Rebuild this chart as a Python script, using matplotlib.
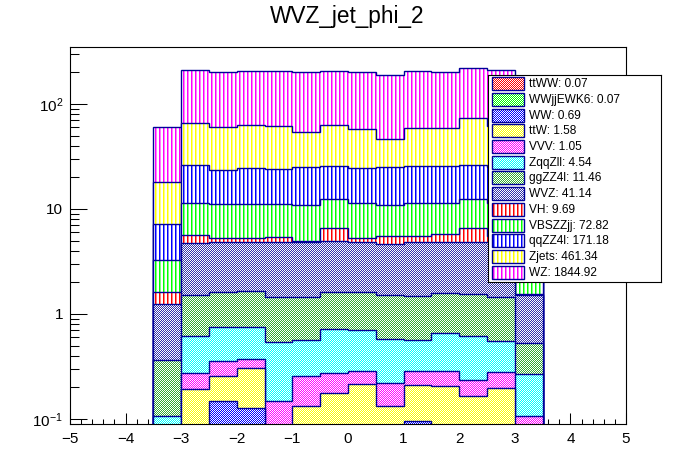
import numpy as np
import matplotlib
matplotlib.use("Agg")
import matplotlib.pyplot as plt
from matplotlib.patches import Rectangle
from matplotlib.colors import to_rgb
from matplotlib.ticker import LogLocator, NullFormatter, MultipleLocator

plt.rcParams["font.family"] = ["Liberation Sans", "DejaVu Sans"]
plt.rcParams["mathtext.fontset"] = "custom"
plt.rcParams["mathtext.rm"] = "Liberation Sans"

TITLE = "WVZ_jet_phi_2"

# 14 bins of width 0.5 between -3.5 and 3.5
BIN_EDGES = [-3.5, -3.0, -2.5, -2.0, -1.5, -1.0, -0.5, 0.0,
             0.5, 1.0, 1.5, 2.0, 2.5, 3.0, 3.5]

# stack order, bottom -> top (also legend order, top -> bottom)
PROCESSES = ["ttWW", "WWjjEWK6", "WW", "ttW", "VVV", "ZqqZll", "ggZZ4l",
             "WVZ", "VH", "VBSZZjj", "qqZZ4l", "Zjets", "WZ"]
TOTALS = [0.07, 0.07, 0.69, 1.58, 1.05, 4.54, 11.46,
          41.14, 9.69, 72.82, 171.18, 461.34, 1844.92]

# per-bin contents
TTWW = [0.002, 0.005, 0.005, 0.005, 0.005, 0.005, 0.005,
        0.005, 0.005, 0.005, 0.005, 0.005, 0.005, 0.002]
WWJJ = [0.003, 0.005, 0.005, 0.005, 0.005, 0.005, 0.005,
        0.005, 0.005, 0.005, 0.005, 0.005, 0.005, 0.003]
WW = [0.01, 0.04, 0.138, 0.117, 0.02, 0.03, 0.03,
      0.03, 0.03, 0.086, 0.03, 0.03, 0.03, 0.01]
TTW = [0.03, 0.144, 0.11, 0.179, 0.03, 0.094, 0.137,
       0.174, 0.094, 0.115, 0.165, 0.127, 0.156, 0.03]
VVV = [0.03, 0.082, 0.099, 0.067, 0.088, 0.124, 0.098,
       0.072, 0.086, 0.075, 0.081, 0.07, 0.082, 0.062]
ZQQZLL = [0.032, 0.344, 0.395, 0.379, 0.397, 0.311, 0.445,
          0.422, 0.358, 0.283, 0.373, 0.384, 0.275, 0.163]
GGZZ = [0.258, 0.90, 0.878, 0.908, 0.905, 0.881, 0.91,
        0.902, 0.942, 0.921, 0.921, 0.919, 0.897, 0.26]
WVZ = [0.885, 3.26, 3.18, 3.15, 3.43, 3.36, 3.28,
       3.2, 3.15, 3.32, 3.3, 3.34, 3.35, 1.0]
VH = [0.37, 0.87, 0.49, 0.49, 0.57, 0.18, 1.68,
      0.49, 0.9, 0.76, 0.85, 1.71, 0.7, 0.02]
VBS = [1.65, 5.75, 5.8, 5.8, 5.65, 5.81, 5.91,
       6.1, 5.33, 5.83, 5.67, 5.91, 6.0, 1.75]
QQZZ = [3.97, 14.8, 12.6, 13.5, 12.9, 14.3, 13.2,
        13.2, 14.2, 14.5, 14.5, 13.7, 13.5, 3.9]
ZJETS = [10.86, 39.7, 36.7, 38.4, 37.7, 29.4, 37.3,
         33.2, 21.3, 33.2, 33.2, 46.7, 37.0, 10.8]
WZ = [42.3, 145.0, 141.6, 143.0, 144.0, 147.5, 143.0,
      144.0, 142.6, 146.9, 142.9, 147.0, 147.0, 42.0]

CONTENTS = [TTWW, WWJJ, WW, TTW, VVV, ZQQZLL, GGZZ,
            WVZ, VH, VBS, QQZZ, ZJETS, WZ]

# ROOT-like fill styles: (colour, pattern)
STYLE = {
    "ttWW": ("#ff0000", "check"),
    "WWjjEWK6": ("#00ff00", "check"),
    "WW": ("#0000ff", "check"),
    "ttW": ("#ffff00", "check"),
    "VVV": ("#ff00ff", "check"),
    "ZqqZll": ("#00ffff", "check"),
    "ggZZ4l": ("#33aa33", "check"),
    "WVZ": ("#3333aa", "check"),
    "VH": ("#ff0000", "vert"),
    "VBSZZjj": ("#00ff00", "vert"),
    "qqZZ4l": ("#0000ff", "vert"),
    "Zjets": ("#ffff00", "vert"),
    "WZ": ("#ff00ff", "vert"),
}
LINE = "#000099"

W, H = 696, 472
# plot frame in pixels (left, top, right, bottom)
FX0, FY0, FX1, FY1 = 70, 47, 626, 424
# legend box in pixels
LX0, LY0, LX1, LY1 = 488, 75, 661, 282


def texture(name, h, w):
    """Pixel pattern like ROOT fill styles: checker or vertical lines."""
    col, kind = STYLE[name]
    c = np.array(to_rgb(col))
    yy, xx = np.mgrid[0:h, 0:w]
    img = np.ones((h, w, 3))
    if kind == "vert":
        img[(xx % 4) == 1] = c
        img[(xx % 4) == 2] = 0.5 * c + 0.5
    else:
        img[((xx + yy) % 2) == 0] = c
    return img


def patterned(ax, name, clip, z):
    """Full-axes pixel texture clipped to a patch (1:1 pixel mapping)."""
    bb = ax.get_position()
    pw, ph = int(round(bb.width * W)), int(round(bb.height * H))
    im = ax.imshow(texture(name, ph, pw), extent=(0, 1, 0, 1),
                   transform=ax.transAxes, interpolation="nearest",
                   aspect="auto", zorder=z)
    im.set_clip_path(clip)


def main():
    fig = plt.figure(figsize=(W / 100, H / 100), dpi=100)
    ax = fig.add_axes([FX0 / W, 1 - FY1 / H, (FX1 - FX0) / W, (FY1 - FY0) / H])
    ax.set_yscale("log")

    edges = np.array(BIN_EDGES)
    cum = np.cumsum(np.array(CONTENTS), axis=0)

    # ROOT THStack: draw cumulative histos from the top one down
    z = 1.0
    for k in range(len(PROCESSES) - 1, -1, -1):
        name = PROCESSES[k]
        shape = ax.stairs(cum[k], edges, baseline=1e-4, fill=True,
                          facecolor="none", linewidth=0, zorder=z)
        patterned(ax, name, shape, z + 0.1)
        ax.stairs(cum[k], edges, baseline=1e-4, fill=False,
                  color=LINE, linewidth=1.0, zorder=z + 0.2)
        z += 1

    ax.set_xlim(-5, 5)
    ax.set_ylim(0.0896, 349)

    ax.set_yticks([0.1, 1, 10, 100])
    ax.set_yticklabels([r"$\mathregular{10^{-1}}$", "1", "10",
                        r"$\mathregular{10^{2}}$"])
    ax.yaxis.set_minor_locator(LogLocator(base=10, subs=np.arange(2, 10)))
    ax.yaxis.set_minor_formatter(NullFormatter())
    ax.xaxis.set_major_locator(MultipleLocator(1))
    ax.xaxis.set_minor_locator(MultipleLocator(0.2))

    ax.tick_params(axis="y", which="major", direction="in", length=12.2,
                   width=0.75, labelsize=11, pad=5)
    ax.tick_params(axis="y", which="minor", direction="in", length=6.5,
                   width=0.75)
    ax.tick_params(axis="x", which="major", direction="in", length=7.9,
                   width=0.75, labelsize=11, pad=6)
    ax.tick_params(axis="x", which="minor", direction="in", length=3.4,
                   width=0.75)
    for sp in ax.spines.values():
        sp.set_linewidth(0.8)
        sp.set_zorder(50)

    fig.text(0.4986, 1 - 22.7 / H, TITLE, ha="center", va="baseline",
             fontsize=16.3)

    # legend (pixel units inside its own axes, y pointing down)
    lax = fig.add_axes([LX0 / W, 1 - LY1 / H, (LX1 - LX0) / W, (LY1 - LY0) / H])
    row_h = 15.69
    for i, (name, tot) in enumerate(zip(PROCESSES, TOTALS)):
        top = int(round(2.3 + i * row_h))
        box = Rectangle((4, top), 32, 13, fill=False, linewidth=0)
        lax.add_patch(box)
        patterned(lax, name, box, 2)
        lax.add_patch(Rectangle((4, top), 32, 13, fill=False,
                                edgecolor=LINE, linewidth=1.0, zorder=3))
        lax.text(41, top + 6.7, f"{name}: {tot:.2f}", va="center", ha="left",
                 fontsize=8.6, zorder=4)
    lax.set_xlim(0, LX1 - LX0)
    lax.set_ylim(LY1 - LY0, 0)
    lax.set_xticks([])
    lax.set_yticks([])
    for sp in lax.spines.values():
        sp.set_linewidth(0.8)
        sp.set_zorder(10)

    fig.savefig("out.png", dpi=100)


if __name__ == "__main__":
    main()
